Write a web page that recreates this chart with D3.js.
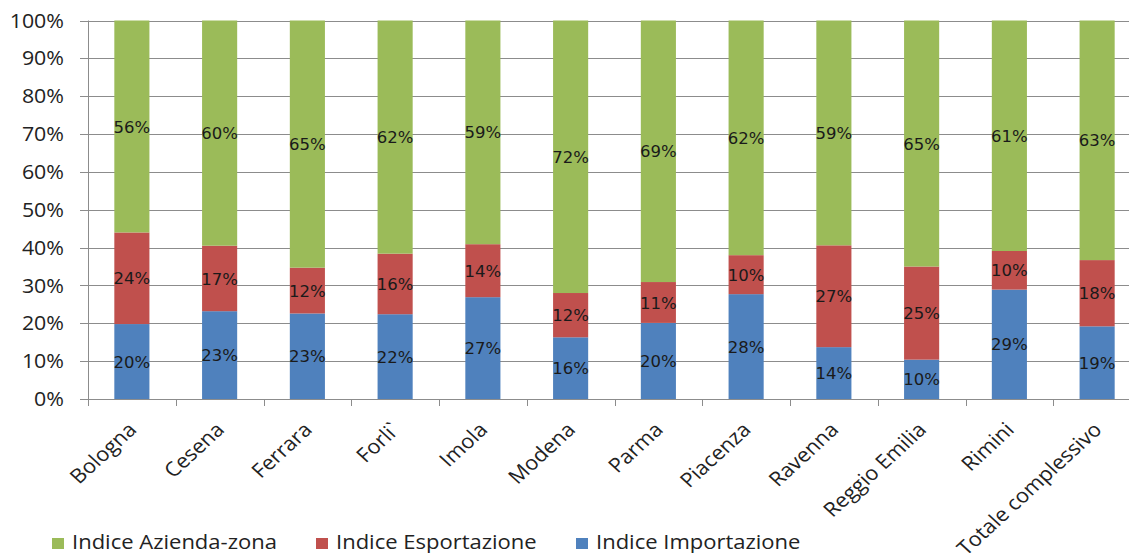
<!DOCTYPE html>
<html><head><meta charset="utf-8">
<script src="https://cdn.jsdelivr.net/npm/d3@7"></script>
<style>html,body{margin:0;padding:0;background:#fff;overflow:hidden}</style>
</head><body><svg id="c" width="1129" height="553"></svg>
<script>
const categories = ["Bologna","Cesena","Ferrara","Forli`","Imola","Modena","Parma","Piacenza","Ravenna","Reggio Emilia","Rimini","Totale complessivo"];
const importazione = [19.8,23.2,22.6,22.4,26.9,16.3,20.1,27.7,13.7,10.4,28.9,19.2];
const esportazione = [24.2,17.3,12.1,16.0,14.0,11.7,10.8,10.3,26.9,24.6,10.2,17.5];
const aziendaZona  = [56.0,59.5,65.3,61.6,59.1,72.0,69.1,62.0,59.4,65.0,60.9,63.3];
const seriesNames = ["Indice Importazione","Indice Esportazione","Indice Azienda-zona"];
const seriesColors = ["#4F81BD","#C0504D","#9BBB59"];
const yTicks = [0,10,20,30,40,50,60,70,80,90,100];

(function(){
const svg = d3.select("#c");
const pl = 88, pr = 1141, pt = 20.5, pb = 399;
const sx = 1.09; // horizontal stretch of text
const x = d3.scaleBand().domain(categories).range([pl, pr]).paddingInner(0.6).paddingOuter(0.3);
const xb = d3.scaleBand().domain(categories).range([pl, pr]);
const y = d3.scaleLinear().domain([0,100]).range([pb, pt]);

// gridlines
svg.append("g").selectAll("line").data(yTicks).join("line")
  .attr("x1", pl-8).attr("x2", 1129).attr("y1", d=>Math.round(y(d))+0.5).attr("y2", d=>Math.round(y(d))+0.5)
  .attr("stroke", "#8c8c8c").attr("stroke-width", 1);

// y labels
svg.append("g").selectAll("text").data(yTicks).join("text")
  .attr("transform", d=>`translate(64,${y(d)}) scale(${sx},1)`)
  .attr("dy","0.36em").attr("text-anchor","end")
  .attr("font-family","'Open Sans', sans-serif").attr("font-size", 19.6).attr("fill","#222")
  .text(d=>d+"%");

// y axis line
svg.append("line").attr("x1", pl+0.5).attr("x2", pl+0.5).attr("y1", pt).attr("y2", pb+7)
  .attr("stroke","#8c8c8c");
// x ticks
svg.append("g").selectAll("line").data(d3.range(categories.length+1)).join("line")
  .attr("x1", i=>Math.round(pl + i*xb.step())+0.5).attr("x2", i=>Math.round(pl + i*xb.step())+0.5)
  .attr("y1", pb).attr("y2", pb+7).attr("stroke","#8c8c8c");

const data = categories.map((c,i)=>({cat:c, imp:importazione[i], esp:esportazione[i], az:aziendaZona[i]}));
const stacked = d3.stack().keys(["imp","esp","az"])(data);

const g = svg.append("g");
stacked.forEach((s, si) => {
  g.append("g").selectAll("rect").data(s).join("rect")
    .attr("x", d=>x(d.data.cat)).attr("width", x.bandwidth())
    .attr("y", d=>y(d[1])).attr("height", d=>y(d[0])-y(d[1]))
    .attr("fill", seriesColors[si]);
});
stacked.forEach((s, si) => {
  g.append("g").selectAll("text").data(s).join("text")
    .attr("x", d=>x(d.data.cat)+x.bandwidth()/2).attr("y", d=>(y(d[0])+y(d[1]))/2)
    .attr("dy","0.37em").attr("text-anchor","middle")
    .attr("font-family","'DejaVu Sans', sans-serif").attr("font-size", 16.5).attr("fill","#1a1a1a")
    .text(d=>Math.round(d[1]-d[0])+"%");
});

// x labels rotated
svg.append("g").selectAll("text").data(categories).join("text")
  .attr("transform", d=>`translate(${x(d)+x.bandwidth()/2+6},${pb+32}) scale(${sx},1) rotate(-45)`)
  .attr("text-anchor","end")
  .attr("font-family","'Open Sans', sans-serif").attr("font-size", 20).attr("fill","#222")
  .text(d=>d);

// legend
const legendItems = [2,1,0];
const legendX = [52, 316, 576];
const lg = svg.append("g");
legendItems.forEach((si, k) => {
  lg.append("rect").attr("x", legendX[k]).attr("y", 538).attr("width", 12).attr("height", 11).attr("fill", seriesColors[si]);
  lg.append("text").attr("transform", `translate(${legendX[k]+20},548.5) scale(${sx},1)`)
    .attr("font-family","'Open Sans', sans-serif").attr("font-size", 20.2).attr("fill","#222")
    .text(seriesNames[si]);
});
})();
</script></body></html>
